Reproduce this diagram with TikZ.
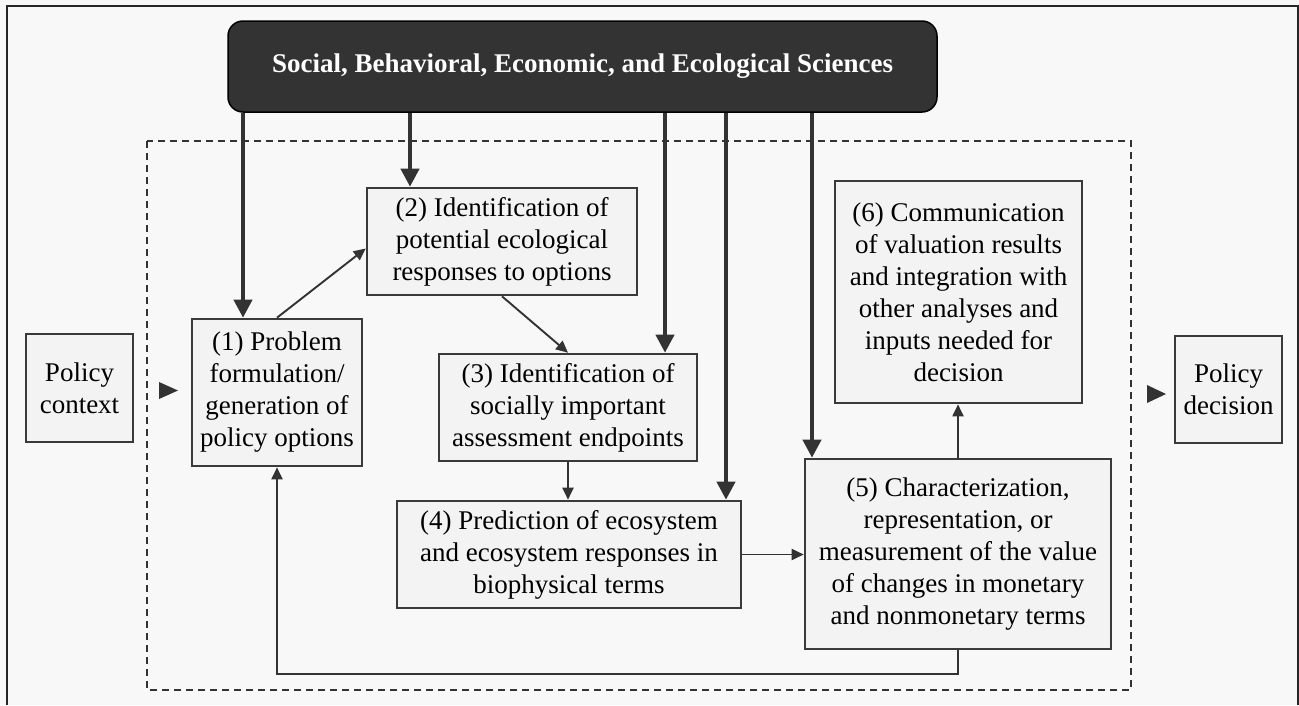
\documentclass[tikz,border=0pt]{standalone}
\usepackage{fontspec}
\setmainfont{Liberation Serif}
\usetikzlibrary{arrows.meta, positioning, calc}
\definecolor{bg}{HTML}{F8F8F8}
\definecolor{boxfill}{HTML}{F3F3F3}
\definecolor{edge}{HTML}{3A3A3A}
\definecolor{ink}{HTML}{333333}

\begin{document}
\begin{tikzpicture}[x=1pt,y=-1pt,
    every node/.style={font=\fontsize{27pt}{32pt}\selectfont, align=center, inner sep=0pt},
    stage/.style={draw=edge, line width=2.6pt, fill=boxfill},
    flow/.style={draw=ink, line width=1.9pt, -{Triangle[length=12pt,width=11pt]}},
    heavy/.style={draw=ink, line width=4pt, -{Triangle[length=18pt,width=18pt]}}]
      \fill[bg] (0,0) rectangle (1299,705);
      \useasboundingbox (0,0) rectangle (1299,705);
      \draw[line width=2pt, draw=black!85] (7,705) -- (7,6) -- (1298,6) -- (1298,705);
      \draw[dash pattern=on 7pt off 5pt, line width=1.4pt, draw=ink] (147,141) rectangle (1131,690);
      % sciences banner
      \node[draw=black, line width=1.5pt, fill=ink, rounded corners=15pt, text=white,
        minimum width=709pt, minimum height=91pt,
        font=\fontsize{27pt}{32pt}\selectfont\bfseries] (sci) at (582.5,66.5)
        {Social, Behavioral, Economic, and Ecological Sciences};
      % stages
      \node[stage, minimum width=107pt, minimum height=108pt] (ctx) at (79.5,388) {Policy\\context};
      \node[stage, minimum width=170pt, minimum height=147pt] (b1) at (277,392.5)
        {(1) Problem\\formulation/\\generation of\\policy options};
      \node[stage, minimum width=270pt, minimum height=107pt] (b2) at (502,241.5)
        {(2) Identification of\\potential ecological\\responses to options};
      \node[stage, minimum width=258pt, minimum height=107pt] (b3) at (568,407.5)
        {(3) Identification of\\socially important\\assessment endpoints};
      \node[stage, minimum width=344pt, minimum height=107pt] (b4) at (569,554.5)
        {(4) Prediction of ecosystem\\and ecosystem responses in\\biophysical terms};
      \node[stage, minimum width=306pt, minimum height=190pt] (b5) at (958,554)
        {(5) Characterization,\\representation, or\\measurement of the value\\of changes in monetary\\and nonmonetary terms};
      \node[stage, minimum width=247pt, minimum height=222pt] (b6) at (958.5,292)
        {(6) Communication\\of valuation results\\and integration with\\other analyses and\\inputs needed for\\decision};
      \node[stage, minimum width=107pt, minimum height=107pt] (dec) at (1228.5,389.5) {Policy\\decision};
      % entry and exit marks
      \fill[ink] (159,382) -- (178,390.5) -- (159,399) -- cycle;
      \fill[ink] (1147,385) -- (1166,394) -- (1147,403) -- cycle;
      % inputs from the sciences
      \coordinate (t1) at (243,0);
      \coordinate (t2) at (410,0);
      \coordinate (t3) at (665,0);
      \coordinate (t4) at (726,0);
      \coordinate (t5) at (812,0);
      \draw[heavy] (sci.south -| t1) -- (b1.north -| t1);
      \draw[heavy] (sci.south -| t2) -- (b2.north -| t2);
      \draw[heavy] (sci.south -| t3) -- (b3.north -| t3);
      \draw[heavy] (sci.south -| t4) -- (b4.north -| t4);
      \draw[heavy] (sci.south -| t5) -- (b5.north -| t5);
      % process flow
      \draw[flow] (b1.north) -- ([yshift=-7pt]b2.west);
      \draw[flow] (b2.south) -- (b3.north);
      \draw[flow] (b3.south) -- (b3.south |- b4.north);
      \draw[flow] (b4.east) -- (b4.east -| b5.west);
      \draw[flow] (b5.north) -- (b5.north |- b6.south);
      \draw[flow] (b5.south) -- ++(0,24) -| (b1.south);
    \end{tikzpicture}
\end{document}
